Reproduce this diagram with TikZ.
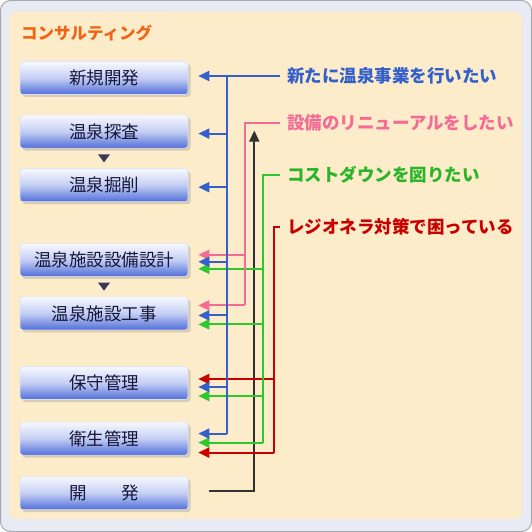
\documentclass[tikz,border=0pt]{standalone}
\usepackage{fontspec}
\usepackage{xcolor}
\usetikzlibrary{arrows.meta,positioning,shadows}
\newfontfamily\jp{Noto Sans CJK JP}
\definecolor{beige}{RGB}{253,236,201}
\definecolor{framebg}{RGB}{232,234,244}
\definecolor{frameline}{RGB}{168,168,176}
\definecolor{btnblue}{RGB}{80,110,216}
\definecolor{btnmid}{RGB}{196,206,244}
\definecolor{btntext}{RGB}{22,22,58}
\definecolor{lineblue}{RGB}{52,96,204}
\definecolor{linepink}{RGB}{244,108,150}
\definecolor{linegreen}{RGB}{46,200,46}
\definecolor{linered}{RGB}{200,0,0}
\definecolor{lineblack}{RGB}{50,50,50}
\definecolor{titleorange}{RGB}{240,100,20}
\tikzset{
  btn/.style={rounded corners=3pt, minimum width=168pt, minimum height=33pt, inner sep=0pt,
    draw=btnmid!60!white, line width=0.6pt,
    top color=white!96!btnblue, bottom color=btnblue, middle color=btnmid,
    drop shadow={shadow xshift=2.5pt, shadow yshift=-2.5pt, opacity=0.3},
    text=btntext, font=\jp\fontsize{17.5pt}{20pt}\selectfont},
  wish/.style={anchor=west, inner xsep=7pt, inner ysep=0pt,
    font=\jp\bfseries\fontsize{17.5pt}{20pt}\selectfont},
  con/.style={line width=2pt},
  tip/.style={-{Triangle[length=11pt,width=10pt]}},
}
\begin{document}
\begin{tikzpicture}[x=1pt,y=-1pt]
\useasboundingbox (0,0) rectangle (532,532);
\draw[fill=framebg, draw=frameline, line width=1pt, rounded corners=10pt] (0.5,0.5) rectangle (531.5,531.5);%外枠
\fill[beige, rounded corners=8pt] (9,12) rectangle (522,519);%背景
\node[anchor=west, inner sep=0pt, text=titleorange, font=\jp\bfseries\fontsize{16.5pt}{19pt}\selectfont] (title) at (21,33) {コンサルティング};
% 業務のボタン
\node[btn] (bNew) at (104,78) {新規開発};
\node[btn, below=20pt of bNew] (bSurvey) {温泉探査};
\node[btn, below=20pt of bSurvey] (bDrill) {温泉掘削};
\node[btn, below=41pt of bDrill] (bDesign) {温泉施設設備設計};
\node[btn, below=20pt of bDesign] (bWork) {温泉施設工事};
\node[btn, below=36pt of bWork] (bMaint) {保守管理};
\node[btn, below=22pt of bMaint] (bHyg) {衛生管理};
\node[btn, below=21pt of bHyg] (bDev) {開　　発};
\fill[btntext!85!white] ([yshift=-6pt]bSurvey.south) ++(-6,0) -- ++(12,0) -- ++(-6,8) -- cycle;
\fill[btntext!85!white] ([yshift=-6pt]bDesign.south) ++(-6,0) -- ++(12,0) -- ++(-6,8) -- cycle;
% 要望
\node[wish, text=lineblue] (lblNew) at (280,76) {新たに温泉事業を行いたい};
\node[wish, text=linepink] (lblRenew) at (280,123) {設備のリニューアルをしたい};
\node[wish, text=linegreen!90!black] (lblCost) at (280,175) {コストダウンを図りたい};
\node[wish, text=linered] (lblLegio) at (280,227) {レジオネラ対策で困っている};
% 線
\draw[con, lineblack, tip] ([xshift=21pt,yshift=2pt]bDev.east) -| ([xshift=66pt,yshift=1pt]bSurvey.east);
\draw[con, linered] (lblLegio.west) -| ([xshift=86pt,yshift=-14pt]bHyg.east);
\foreach \b/\o in {bMaint/4pt, bHyg/-14pt}
  \draw[con, linered, tip] ([xshift=86pt,yshift=\o]\b.east) -- ([xshift=10pt,yshift=\o]\b.east);
\draw[con, linegreen] (lblCost.west) -| ([xshift=75pt,yshift=-4pt]bHyg.east);
\foreach \b/\o in {bDesign/-9pt, bWork/-11pt, bMaint/-13pt, bHyg/-4pt}
  \draw[con, linegreen, tip] ([xshift=75pt,yshift=\o]\b.east) -- ([xshift=10pt,yshift=\o]\b.east);
\draw[con, linepink] (lblRenew.west) -| ([xshift=57pt,yshift=8pt]bWork.east);
\foreach \b/\o in {bDesign/5pt, bWork/8pt}
  \draw[con, linepink, tip] ([xshift=57pt,yshift=\o]\b.east) -- ([xshift=10pt,yshift=\o]\b.east);
\draw[con, lineblue] (lblNew.west) -| ([xshift=39pt,yshift=5pt]bHyg.east);
\foreach \b/\o in {bNew/2pt, bSurvey/-2pt, bDrill/-2pt, bDesign/-2pt, bWork/-2pt, bMaint/-4pt, bHyg/5pt}
  \draw[con, lineblue, tip] ([xshift=39pt,yshift=\o]\b.east) -- ([xshift=10pt,yshift=\o]\b.east);
\end{tikzpicture}
\end{document}
